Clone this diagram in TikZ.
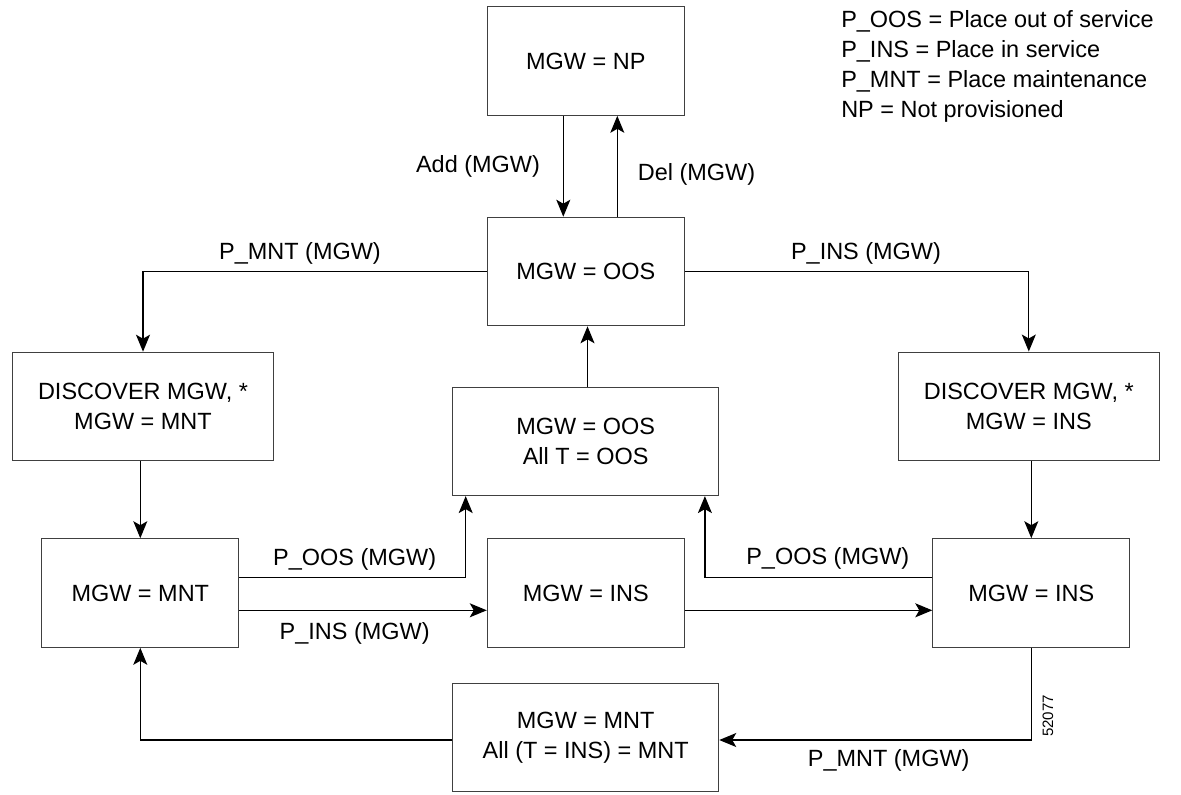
\documentclass[tikz,border=0pt]{standalone}
\usepackage{fontspec}
\setmainfont{Liberation Sans}
\usetikzlibrary{arrows.meta}
\begin{document}
\begin{tikzpicture}[x=0.75pt,y=-0.75pt,
  box/.style={draw=black!75, line width=0.8pt, rectangle, inner sep=0pt,
    minimum height=81.4pt, align=center,
    font=\fontsize{17.6}{22.5}\selectfont, text=black},
  small/.style={box, minimum width=147.75pt},
  wide/.style={box, minimum width=199.5pt},
  disc/.style={box, minimum width=195.75pt},
  conn/.style={line width=0.9pt, -{Stealth[length=12.75pt,width=10.5pt,inset=3pt]}},
  lbl/.style={font=\fontsize{17.6}{22.5}\selectfont, inner sep=0pt, anchor=base, text=black},
  leg/.style={lbl, anchor=base west},
  tag/.style={font=\fontsize{11.3}{13}\selectfont, inner sep=0pt, rotate=90, text=black}
]
\useasboundingbox (0,0) rectangle (1181,794);

% boxes
\node[small] (np)   at (585.8,61)    {MGW = NP};
\node[small] (oos)  at (585.8,271.5) {MGW = OOS};
\node[disc]  (disL) at (143,406.5)   {DISCOVER MGW, *\\MGW = MNT};
\node[disc]  (disR) at (1028.8,406.3){DISCOVER MGW, *\\MGW = INS};
\node[wide]  (oosT) at (585.7,441.3) {MGW = OOS\\All T = OOS};
\node[small] (mnt)  at (140.3,593)   {MGW = MNT};
\node[small] (insM) at (585.8,593)   {MGW = INS};
\node[small] (insR) at (1031.3,593)  {MGW = INS};
\node[wide]  (mntB) at (585.7,737.5) {MGW = MNT\\All (T = INS) = MNT};

% helper coordinates
\coordinate (addx) at (563.3,0);
\coordinate (delx) at (617.3,0);
\coordinate (upx)  at (587.5,0);
\coordinate (pL)   at (465.7,577.7);
\coordinate (pR)   at (704.9,577.7);
\coordinate (pI)   at (0,610.3);
\coordinate (pB)   at (0,740);

% connectors
\draw[conn] (np.south -| addx) -- (oos.north -| addx);
\draw[conn] (oos.north -| delx) -- (np.south -| delx);
\draw[conn] (oosT.north -| upx) -- (oos.south -| upx);
\draw[conn] (oos.west) -| (disL.north);
\draw[conn] (oos.east) -| (disR.north);
\draw[conn] (disL.south -| mnt.north) -- (mnt.north);
\draw[conn] (disR.south -| insR.north) -- (insR.north);
\draw[conn] (mnt.east |- pL) -| (oosT.south -| pL);
\draw[conn] (insR.west |- pR) -| (oosT.south -| pR);
\draw[conn] (mnt.east |- pI) -- (insM.west |- pI);
\draw[conn] (insM.east |- pI) -- (insR.west |- pI);
\draw[conn] (insR.south) |- (mntB.east |- pB);
\draw[conn] (mntB.west |- pB) -| (mnt.south);

% labels
\node[lbl] (ladd)  at (478,172.3)   {Add (MGW)};
\node[lbl] (ldel)  at (696.5,180)   {Del (MGW)};
\node[lbl] (lmntT) at (300,259.5)   {P\_MNT (MGW)};
\node[lbl] (linsT) at (866,259.5)   {P\_INS (MGW)};
\node[lbl] (loosL) at (354.7,565)   {P\_OOS (MGW)};
\node[lbl] (loosR) at (827.8,564)   {P\_OOS (MGW)};
\node[lbl] (linsB) at (354.7,639)   {P\_INS (MGW)};
\node[lbl] (lmntB) at (888.7,766.5) {P\_MNT (MGW)};

% legend
\node[leg] (leg1) at (841,27.3)  {P\_OOS = Place out of service};
\node[leg] (leg2) at (841,57.3)  {P\_INS = Place in service};
\node[leg] (leg3) at (841,87.3)  {P\_MNT = Place maintenance};
\node[leg] (leg4) at (841,117)   {NP = Not provisioned};

% figure number
\node[tag] (fig) at (1048,716) {52077};
\end{tikzpicture}
\end{document}
